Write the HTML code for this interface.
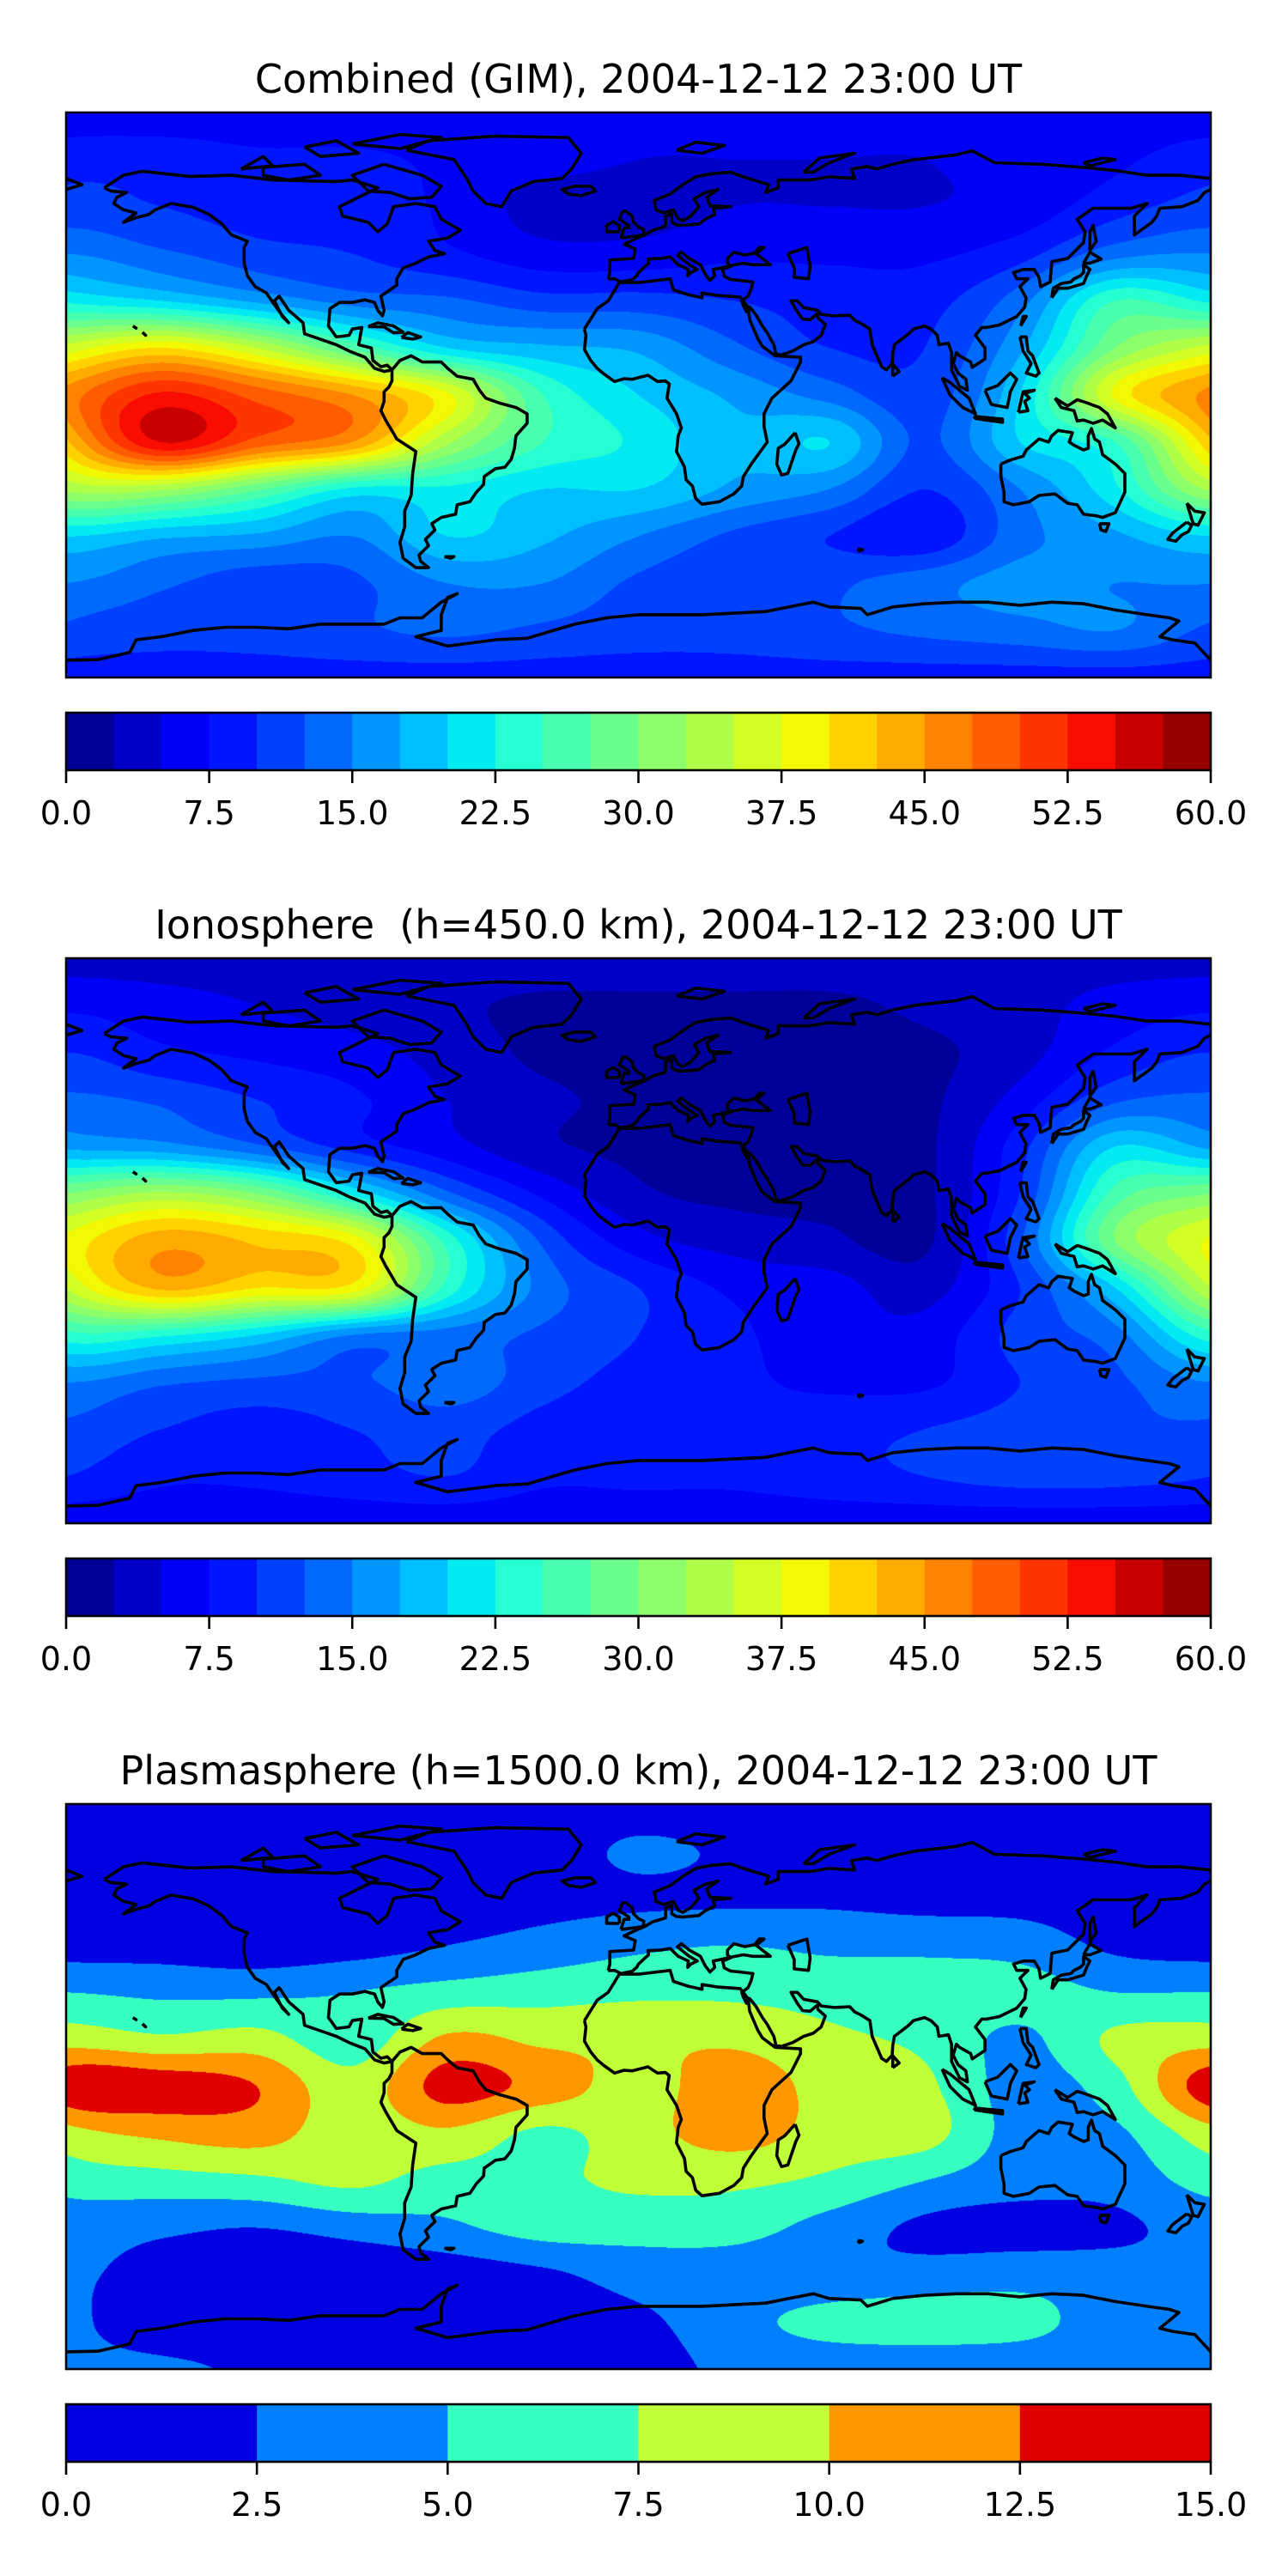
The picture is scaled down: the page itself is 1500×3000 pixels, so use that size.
<!DOCTYPE html>
<html><head><meta charset="utf-8"><style>
body{margin:0;background:#fff;width:1500px;height:3000px;position:relative;overflow:hidden;font-family:"DejaVu Sans","Liberation Sans",sans-serif}
canvas{position:absolute}
svg{position:absolute;left:0;top:0}
</style></head><body>
<canvas id="c0" width="1333" height="658" style="left:77px;top:131px"></canvas>
<canvas id="c1" width="1333" height="658" style="left:77px;top:1116px"></canvas>
<canvas id="c2" width="1333" height="658" style="left:77px;top:2101px"></canvas>
<svg id="ov" width="1500" height="3000"></svg>
<script>
// Grid: lons -180..180 step 30 (13), lats 90..-90 step 15 (13)
const lons=[-180,-150,-120,-90,-60,-30,0,30,60,90,120,150,180];
const lats=[90,75,60,45,30,15,0,-15,-30,-45,-60,-75,-90];
const combined=[
[6,6,6,6,6,6,6,6,6,6,6,6,6],
[9,9,8,8,7,6,5,5,5,5,6,7,9],
[11,10,9,9,7,4,4,5,5,5,6,9,11],
[15,13,11,10,8,6,6,7,7,7,9,14,15],
[22,20,17,14,13,11,11,10,9,9,14,25,22],
[36,40,35,27,20,18,17,13,10,10,17,30,36],
[46,53,49,45,38,25,20,17,14,11,20,38,46],
[42,55,49,45,33,25,22,18,20,12,20,25,42],
[33,33,28,22,22,20,20,17,15,10,15,22,33],
[20,18,17,15,20,18,15,12,10,8,14,17,20],
[15,13,11,12,15,15,12,11,12,14,16,15,15],
[12,11,11,12,13,12,11,11,12,13,14,15,12],
[9,9,9,9,9,9,9,9,9,9,9,9,9]];
const ionosphere=[
[4,4,4,4,4,4,4,4,4,4,4,4,4],
[7,6,5,4,3,2,2,2,2,3,4,6,7],
[10,8,7,6,4,2,2,2,2,2,4,8,10],
[13,12,10,8,5,3,2,2,2,2,6,12,13],
[17,16,13,9,6,3,2,2,2,2,9,20,17],
[30,33,30,22,13,7,3,2,2,2,10,26,30],
[38,44,42,39,24,12,6,4,3,2,12,30,38],
[35,43,40,39,24,14,10,7,6,4,10,20,35],
[24,23,20,15,14,12,10,8,6,6,11,14,24],
[15,13,12,12,14,11,9,8,7,7,10,12,15],
[12,10,9,10,11,9,8,8,9,10,11,12,12],
[10,8,8,9,10,8,8,8,9,10,11,11,10],
[6,6,6,6,6,6,6,6,6,6,6,6,6]];
const plasmasphere=[
[1,1,1,1,1,1,1,1,1,1,1,1,1],
[1,1,1,1,1,1,3,2,1,1,1,1,1],
[1,1,1,1,1,1.5,2,2,2,1.5,1.5,1,1],
[1.5,1.5,1,1.5,2.5,3.5,4.5,5,4.5,4.5,4,2,1.5],
[5,4.5,4.5,5,6,6.5,7,7,6.5,6,6,5,5],
[9,8,8.5,6,10.5,9.5,9.5,9.5,8,7,4.5,8,9],
[14,14,12.5,8.5,13.5,11.5,9,11.5,9,8,4,6.5,14],
[9,10.5,11,8.5,9.5,7,9,11,9,8.5,4,4.5,9],
[6,6.5,7,8,6.5,7,8,8,7,5,3.5,3.5,6],
[3.5,3,2.5,3.5,4.5,6,6,6,4,2,1.5,2,3.5],
[3,1.5,0.5,0.5,1,2,3.5,3.5,3,3.5,4,3.5,3],
[3,1,0.5,0.5,0.5,1,2,4,6,6.5,6,3.5,3],
[3,3,2,1,1,1,1.5,3,3,3,3,3,3]];
const titles=["Combined (GIM), 2004-12-12 23:00 UT","Ionosphere\u00a0 (h=450.0 km), 2004-12-12 23:00 UT","Plasmasphere (h=1500.0 km), 2004-12-12 23:00 UT"];
const levelsA=[0,2.5,5,7.5,10,12.5,15,17.5,20,22.5,25,27.5,30,32.5,35,37.5,40,42.5,45,47.5,50,52.5,55,57.5,60];
const levelsB=[0,2.5,5,7.5,10,12.5,15];
const ticksA=["0.0","7.5","15.0","22.5","30.0","37.5","45.0","52.5","60.0"];
const ticksB=["0.0","2.5","5.0","7.5","10.0","12.5","15.0"];

function jet(t){
  function seg(p){for(let i=0;i<p.length-1;i++){if(t<=p[i+1][0]){const a=p[i],b=p[i+1];return a[1]+(b[1]-a[1])*(t-a[0])/(b[0]-a[0]);}}return p[p.length-1][1];}
  const r=seg([[0,0],[0.35,0],[0.66,1],[0.89,1],[1,0.5]]);
  const g=seg([[0,0],[0.125,0],[0.375,1],[0.64,1],[0.91,0],[1,0]]);
  const b=seg([[0,0.5],[0.11,1],[0.34,1],[0.65,0],[1,0]]);
  return [Math.round(r*255),Math.round(g*255),Math.round(b*255)];
}
function cr(p0,p1,p2,p3,t){return 0.5*((2*p1)+(-p0+p2)*t+(2*p0-5*p1+4*p2-p3)*t*t+(-p0+3*p1-3*p2+p3)*t*t*t);}
function sample(grid,lon,lat){
  const fx=(lon+180)/30, fy=(90-lat)/15;
  let ix=Math.min(11,Math.floor(fx)), iy=Math.min(11,Math.floor(fy));
  const tx=fx-ix, ty=fy-iy;
  const gx=i=>i<0?i+12:(i>12?i-12:i);
  const gy=i=>Math.max(0,Math.min(12,i));
  const rows=[];
  for(let k=-1;k<=2;k++){const row=grid[gy(iy+k)];rows.push(cr(row[gx(ix-1)],row[gx(ix)],row[gx(ix+1)],row[gx(ix+2)],tx));}
  return cr(rows[0],rows[1],rows[2],rows[3],ty);
}
const W=1333,H=658,X0=77;
const tops=[131,1116,2101];
const grids=[combined,ionosphere,plasmasphere];
const levs=[levelsA,levelsA,levelsB];
const tks=[ticksA,ticksA,ticksB];
for(let m=0;m<3;m++){
  const cv=document.getElementById('c'+m),ctx=cv.getContext('2d');
  const img=ctx.createImageData(W,H);const L=levs[m];const n=L.length-1;
  const cols=[];for(let i=0;i<n;i++)cols.push(jet((i+0.5)/n));
  const step=L[1]-L[0];
  for(let y=0;y<H;y++){const lat=90-(y+0.5)/H*180;
    for(let x=0;x<W;x++){const lon=-180+(x+0.5)/W*360;
      let v=sample(grids[m],lon,lat);let i=Math.floor(v/step);if(i<0)i=0;if(i>n-1)i=n-1;
      const c=cols[i],o=(y*W+x)*4;img.data[o]=c[0];img.data[o+1]=c[1];img.data[o+2]=c[2];img.data[o+3]=255;}}
  ctx.putImageData(img,0,0);
}
// coastlines
const coasts=[
[[-168,66],[-162,70],[-156,71.3],[-141,69.6],[-128,70],[-115,68.5],[-95,68],[-90,68.5],[-82,66],[-86,64],[-94,60],[-93,57],[-85,55],[-82,52],[-79,54.5],[-77,60],[-70,61],[-64,60],[-62,56],[-56,52.5],[-60,50],[-66,49],[-64,46],[-61,45],[-66,44],[-70,42],[-74,40.5],[-76,37],[-76,35],[-81,31.5],[-80,27],[-80.5,25.2],[-82,27],[-83,29.5],[-86,30.3],[-90,29.5],[-94,29.5],[-97,27.5],[-97.5,22],[-95,18.5],[-91,19],[-90,21],[-87,21.5],[-88,16],[-84,15],[-83.5,11],[-81,9],[-79,9.5],[-77.5,8],[-80,7.5],[-83,8.5],[-86,12],[-91,14],[-95,16],[-105,19.5],[-105.5,23],[-110,27],[-113,31.5],[-114.5,30],[-112,25],[-110,23],[-112.5,26],[-115,29.5],[-117,32.5],[-120.5,34.5],[-123,38],[-124,42],[-124,47],[-123,49],[-128,51],[-131,54.5],[-135,57.5],[-140,59.8],[-147,61],[-152,59],[-154,57.5],[-158,56.5],[-162,55],[-158,58],[-162,59],[-165,61],[-164,63],[-161,64.5],[-166,65],[-168,66]],
[[-73,78],[-66,81],[-45,82.5],[-22,82],[-18,77],[-21,72],[-24,69],[-33,68],[-40,65],[-43,60],[-48,61],[-52,65],[-54,69],[-58,75],[-68,77],[-73,78]],
[[-77.5,8],[-75,11],[-71.5,12.5],[-68,10.5],[-62,10.5],[-60,8.5],[-57,6],[-52,5],[-50,1.5],[-48,-1],[-44,-2.5],[-38.5,-4],[-35,-6],[-35,-9],[-38.5,-13],[-39,-17],[-40,-20.5],[-42,-23],[-45,-23.5],[-48.5,-26],[-48.7,-28.5],[-51,-31],[-53,-34],[-57,-35],[-57.5,-38],[-62,-39],[-65,-41],[-64,-43],[-67,-46],[-66,-48],[-69,-51],[-68.5,-53],[-66,-55],[-70,-55],[-74,-52],[-75,-47],[-73.5,-42],[-73.5,-37],[-71.5,-32],[-71,-25],[-70,-18],[-76,-14],[-79.5,-8],[-81,-5],[-80,-2],[-80,1],[-78.5,2.5],[-77.5,4.5],[-77.5,8]],
[[-17,21],[-13,27.5],[-9.5,30],[-6,35.8],[0,35.8],[10,37],[11,33.5],[15.5,32],[20,31],[20,32.5],[25,31.7],[32,31.2],[34.5,28],[35,24],[37.5,18],[39,15.5],[43,12.5],[51,12],[51,10.5],[48,4.5],[42,-1],[39.5,-6],[39.5,-10],[40.5,-15],[35.5,-22],[33,-26],[32.5,-29],[30,-31.5],[25.5,-34],[20,-34.8],[18,-33],[17,-29],[15,-27],[14.5,-23],[12,-18],[12.5,-13],[13.5,-10.5],[12,-6],[9,-1],[9.7,3.5],[8.5,4.5],[6,4.3],[3,6.3],[-2,5],[-4.5,5.2],[-7.5,4.3],[-11,6.8],[-13,8.5],[-15,11],[-17,14.5],[-16.5,19],[-17,21]],
[[-9.5,36.9],[-9,39],[-9,43],[-1.5,43.5],[-1,46.5],[-4.5,48],[-1.5,49.5],[2,51],[4.5,52.5],[8.5,53.7],[8.6,57],[10.5,57.7],[10.5,55],[12,54.2],[14,54],[19,54.5],[21,56],[24,57.5],[23.5,59.5],[29,60],[22.5,60.3],[21.5,63],[25,65.5],[21,64.5],[17.5,62.5],[19,60],[16.5,57],[14,55.5],[12.5,56.2],[11,59],[8,58],[5.5,59],[5,62],[10,64],[14,67],[18,69.5],[23,70.5],[29,71],[33,69.5],[41,67],[40,64.5],[44,66],[44,68.5],[54,68.5],[60,69.5],[68,69],[67,72],[72,72.8],[75,72],[80,73.5],[87,75],[100,76.5],[105,77.8],[112,74],[127,73.5],[140,72.5],[150,71.5],[160,70],[170,70],[180,69]],
[[180,65.5],[178,64.5],[176,62],[171,60],[164,59.5],[163,57],[161.5,55],[156,51],[156,57],[160,61],[155,59.5],[150,59.5],[143,59.5],[138,56],[140.5,52],[140,48.5],[135,43.5],[130,42.5],[129.5,36],[126.5,34.5],[126,37.5],[124.5,40],[121,40],[118,39],[119,37],[122.5,37],[120,34.5],[121.9,31],[121.5,28],[119,25],[113.5,22.3],[109.5,21.5],[108,21.5],[106,19],[109,15],[109,11.5],[105,8.8],[104.5,10.5],[101,12.5],[100,13.5],[99,10],[100.5,7],[103,5],[103.5,1.5],[101,2.8],[98.5,8],[98.5,13.5],[97.5,16.5],[94.5,16],[94,19],[92,21],[90,22],[86.5,21],[85,19.5],[80.5,16],[80,13],[79.8,10],[78,8],[76.5,9],[73.5,16],[72.8,21],[70,22.8],[68,23.8],[66.5,25.4],[61.5,25.2],[57.5,25.7],[56.3,27],[52,27.8],[50,30],[48,30],[50,26.5],[51.6,24.2],[54,24],[56.3,26],[56.5,24.5],[58.8,22.5],[57.5,19],[55,17],[52,16],[48.5,14],[45,12.8],[43.3,13],[42.6,16],[40.5,19.8],[39,22],[37,25.5],[35,28],[34.5,28],[34,26.5],[33,28.5],[32.5,30],[34.5,31.5],[35.5,33.8],[36,36],[32,36.5],[29,36.8],[27,37.8],[26.5,40],[29,41],[28,42],[28,43.5],[30,45.5],[33.5,44.6],[36.5,45.2],[38,47],[39.5,47],[37,45],[41.5,41.5],[36,41.5],[33,42],[29,41.2],[26,40.5],[23.5,40],[24,38],[22.5,36.5],[21,38.5],[19.5,41.5],[16,43.5],[13.5,45.5],[12.3,44.5],[16,41.5],[18.5,40],[16.5,39],[15.5,38],[15.7,40],[12.5,41.5],[10,44],[7,43.5],[3,43.3],[3.2,42],[0,39],[-0.5,38],[-2,36.7],[-5.5,36],[-7.5,37],[-9.5,36.9]],
[[-180,65.5],[-175,67],[-180,69]],
[[-5.5,50],[1.5,51],[1.7,52.7],[0,53.5],[-1.5,55],[-2,57],[-4,58.6],[-5,58.5],[-6,56],[-4.5,55],[-3,54],[-3,53.3],[-4.5,53.3],[-5,51.6],[-5.5,50]],
[[-6,52],[-6,54],[-8,55.2],[-10,54],[-10,52],[-6,52]],
[[-22,64],[-24,65.5],[-20,66.5],[-15,66.5],[-13.5,65],[-18,63.5],[-22,64]],
[[130,31],[132,34],[135,34],[140,35.5],[141,38],[142,40],[140,41.5],[140,39],[139,38],[137,37],[136,36],[133,35.5],[130.5,34],[130,31]],
[[140,42],[142,42],[145.5,43.3],[142,45.5],[140,42]],
[[114,-22],[114,-26],[115,-31],[115,-34],[118,-35],[123,-34],[126,-32],[131,-31.5],[135,-34.5],[138,-35],[140,-38],[144,-38.5],[146,-39],[150,-37.5],[153,-31],[153,-25],[150,-22],[146,-19],[145,-15],[143.5,-14],[142.5,-10.7],[141.5,-13],[141.5,-17],[140,-17.5],[137,-16],[135.5,-15],[136.5,-12],[132,-11.3],[130,-13],[129,-15],[126,-14],[122,-17.5],[121,-19.5],[117,-20.7],[114,-22]],
[[145,-41],[148,-41],[147,-43.5],[145.5,-43],[145,-41]],
[[172.5,-34.5],[175,-37],[178,-37.5],[176,-41.5],[174.5,-41],[172.5,-34.5]],
[[172.5,-40.5],[174,-41.5],[173,-43.5],[171,-44.5],[169,-46.6],[166.5,-46],[168,-44],[172.5,-40.5]],
[[49.3,-12],[50.5,-15.5],[49.5,-17.5],[47,-25],[45,-25.5],[43.5,-22],[44,-17],[46,-15.7],[49.3,-12]],
[[109,1.5],[111,-3],[116,-4],[117,1],[119,5],[117,7],[115,5],[113,3],[109,1.5]],
[[95.5,5.5],[98,4],[104,-1],[106,-6],[102,-4],[98,0],[95.5,5.5]],
[[105.5,-6.8],[114.5,-7.7],[114.5,-8.7],[106,-7.5],[105.5,-6.8]],
[[131,-1],[135,-3.5],[138,-1.5],[141,-2.5],[145,-4],[147.5,-6],[150,-10.5],[146,-8],[143,-9],[140,-8],[138,-8.3],[137,-5],[133,-4],[131,-1]],
[[119.5,-5.5],[120.5,-1],[121,1],[124.5,1.5],[121.5,0.5],[123,-1],[121.5,-2],[122.5,-5],[119.5,-5.5]],
[[120,18.5],[122,18.5],[122.5,14],[124,12.5],[126,7],[125,6],[122,7],[123.5,10],[121,14],[120,18.5]],
[[120.2,22],[121,25],[122,25],[120.2,22]],
[[80,6],[80,9.8],[82,7.5],[80,6]],
[[-85,21.8],[-82,23],[-77,22],[-74,20],[-77,19.8],[-80,21.7],[-85,21.8]],
[[-74.5,18.3],[-72.5,19.9],[-68.5,18.5],[-71,17.8],[-74.5,18.3]],
[[-80,73.5],[-68,70],[-62,66.5],[-65,63],[-72,62.5],[-78,64.5],[-85,65],[-90,70],[-80,73.5]],
[[-118,72.5],[-105,73.5],[-100,70],[-110,68.5],[-118,70],[-118,72.5]],
[[-90,80],[-75,83],[-62,82],[-75,78.5],[-90,80]],
[[-105,79],[-95,81],[-88,77],[-100,76],[-105,79]],
[[-125,72],[-118,76],[-115,73],[-125,72]],
[[12,78],[18,80.5],[27,79.5],[20,77],[12,78]],
[[52,71],[57,75.5],[68,77],[60,74],[55,71],[52,71]],
[[142,46],[144,49],[143,54],[142,52],[142,46]],
[[140,74],[146,75.5],[150,75],[142,73],[140,74]],
[[47,45],[53,47],[54,41],[53.5,37],[49,37.5],[49,40.5],[47,45]],
[[-180,-84.5],[-170,-84.3],[-160,-82],[-158,-78],[-150,-77],[-140,-75],[-130,-74],[-120,-74],[-110,-74.5],[-100,-73],[-90,-73],[-80,-73],[-75,-71],[-68,-71],[-62,-66],[-57,-63.3],[-60,-64.5],[-62,-70],[-62,-75],[-70,-77],[-60,-80],[-45,-78],[-35,-77.5],[-30,-76],[-20,-73],[-10,-71],[0,-70],[10,-70],[20,-70],[30,-69.5],[40,-69],[50,-67],[55,-66],[60,-67.5],[70,-68],[72,-70],[80,-67.5],[90,-66.5],[100,-66],[110,-66],[120,-67],[130,-66],[140,-66.5],[150,-68.5],[160,-70],[167,-71],[170,-72],[164,-77],[168,-78],[175,-79],[180,-84.5]],
[[-159,22],[-158,21.3],[-159,22]],[[-156,20],[-155,19],[-156,20]],
[[-61,-51.5],[-58,-51.5],[-59,-52],[-61,-51.5]],
[[69,-49],[70.5,-49.3],[69.5,-49.7],[69,-49]]
];
const ov=document.getElementById('ov');const NS='http://www.w3.org/2000/svg';
function mk(t,a){const e=document.createElementNS(NS,t);for(const k in a)e.setAttribute(k,a[k]);ov.appendChild(e);return e;}
for(let m=0;m<3;m++){
  const top=tops[m];
  const px=lon=>X0+(lon+180)/360*W, py=lat=>top+(90-lat)/180*H;
  const g=document.createElementNS(NS,'g');
  
  
  ov.appendChild(g);
  for(const c of coasts){
    const p=document.createElementNS(NS,'polyline');
    
    
    p.setAttribute('points',c.map(q=>px(q[0]).toFixed(1)+','+py(q[1]).toFixed(1)).join(' '));
    p.setAttribute('fill','none');p.setAttribute('stroke','#000');p.setAttribute('stroke-width','3.6');p.setAttribute('stroke-linejoin','round');
    g.appendChild(p);
  }
  const fr=mk('rect',{x:X0,y:top,width:W,height:H,fill:'none',stroke:'#000','stroke-width':2.6});
  
  
  const t=mk('text',{x:X0+W/2,y:top-23,'text-anchor':'middle','font-size':46,'font-family':'DejaVu Sans, Liberation Sans, sans-serif',fill:'#000'});
  t.textContent=titles[m];
  
  
  const cbT=top+699,cbH=67;const L=levs[m];const n=L.length-1;const vmax=L[n];
  const cx=v=>X0+v/vmax*W;
  for(let i=0;i<n;i++){const c=jet((i+0.5)/n);
    const r=mk('rect',{x:cx(L[i]),y:cbT,width:cx(L[i+1])-cx(L[i])+0.5,height:cbH,fill:`rgb(${c[0]},${c[1]},${c[2]})`});
    
    }
  const cf=mk('rect',{x:X0,y:cbT,width:W,height:cbH,fill:'none',stroke:'#000','stroke-width':2.6});
  
  
  const T=tks[m];
  for(let i=0;i<T.length;i++){const v=parseFloat(T[i]);const x=cx(v);
    const ln=mk('line',{x1:x,x2:x,y1:cbT+cbH,y2:cbT+cbH+15,stroke:'#000','stroke-width':2.6});
    
    
    const tx=mk('text',{x:x,y:cbT+cbH+63,'text-anchor':'middle','font-size':38,'font-family':'DejaVu Sans, Liberation Sans, sans-serif',fill:'#000'});
    tx.textContent=T[i];
    
    }
}
</script>
</body></html>
